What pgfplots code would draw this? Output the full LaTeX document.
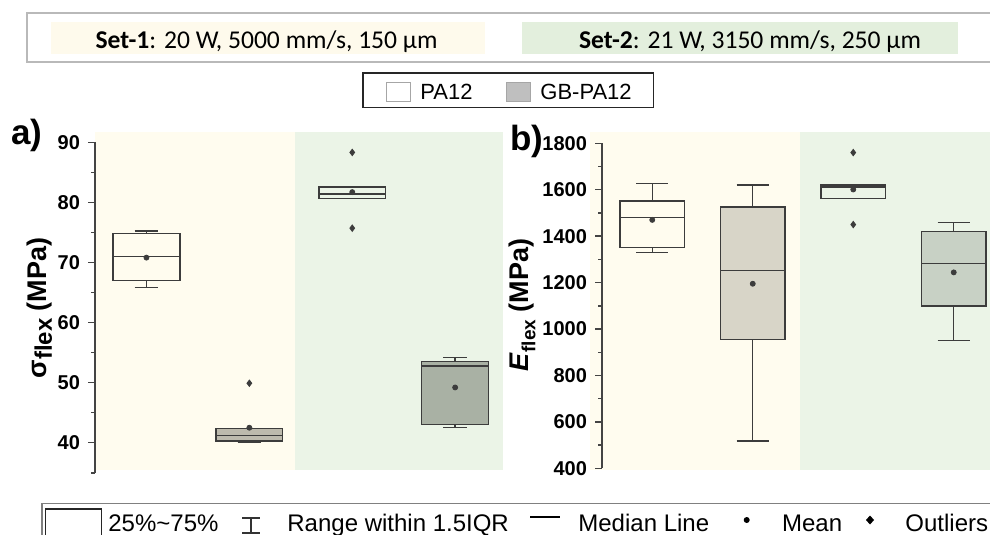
\documentclass[border=0pt]{standalone}
\usepackage{fontspec}
\setmainfont{Liberation Sans}
\newfontfamily\carlito{Carlito}
\usepackage{pgfplots}
\pgfplotsset{compat=1.18}
\usepgfplotslibrary{statistics}

\definecolor{bgyel}{HTML}{FFFCEF}
\definecolor{bggrn}{HTML}{EBF4E7}
\definecolor{topyel}{HTML}{FEFAEC}
\definecolor{topgrn}{HTML}{E3EFDD}
\definecolor{boxline}{HTML}{3C3C3C}
\definecolor{axline}{HTML}{444444}
\definecolor{gbaone}{HTML}{BDBAAD}
\definecolor{gbatwo}{HTML}{A9B1A4}
\definecolor{gbbone}{HTML}{D8D5C8}
\definecolor{gbbtwo}{HTML}{C8D1C5}

\pgfplotsset{
  panel/.style={
    anchor=south west, scale only axis,
    xmin=0.5, xmax=4.5, xtick=\empty,
    axis x line=none, axis y line*=left,
    axis line style={draw=axline, line width=0.7pt},
    tick align=outside, major tick length=3.5pt, minor tick length=2pt,
    every tick/.style={draw=axline, line width=0.7pt},
    /pgf/number format/assume math mode=true,
    /pgf/number format/1000 sep={},
    yticklabel style={font=\fontsize{10}{11}\selectfont\bfseries, xshift=-0.5pt},
    clip=false,
  },
  onebox/.style={boxplot/draw direction=y, draw=boxline, line width=0.7pt, solid, mark=none},
}

\begin{document}
\begin{tikzpicture}[x=0.5pt, y=-0.5pt]
% top box
\draw[gray!55, line width=1pt] (26.7,13.3) rectangle (1000,61.7);
\fill[topyel] (50.8,21.7) rectangle (485,54);
\fill[topgrn] (521.6,21.7) rectangle (958,54);
\node[anchor=base, inner sep=0pt, font=\carlito\fontsize{12.8}{14}\selectfont] at (266.5,48.3) {\textbf{Set-1}: 20 W, 5000 mm/s, 150 µm};
\node[anchor=base, inner sep=0pt, font=\carlito\fontsize{12.8}{14}\selectfont] at (750,48.3) {\textbf{Set-2}: 21 W, 3150 mm/s, 250 µm};

% legend
\draw[black!85, line width=0.7pt] (363,73) rectangle (653.6,107.5);
\draw[gray!70, line width=0.5pt, fill=white] (386.7,83) rectangle (410,102);
\node[anchor=base west, inner sep=0pt, font=\fontsize{11}{12}\selectfont] at (420,100) {PA12};
\draw[gray!70, line width=0.5pt, fill=black!25] (506,83) rectangle (530,102);
\node[anchor=base west, inner sep=0pt, font=\fontsize{11}{12}\selectfont] at (540,100) {GB-PA12};

% panel backgrounds
\fill[bgyel] (95,131.7) rectangle (295,470);
\fill[bggrn] (295,131.7) rectangle (502.7,470);
\fill[bgyel] (590,131.7) rectangle (800,470);
\fill[bggrn] (800,131.7) rectangle (1000,470);

% panel a
\begin{axis}[panel, at={(47.5pt,-236.4pt)}, width=205.8pt, height=165.3pt,
  ymin=35, ymax=90, ytick={40,50,...,90}, minor ytick={35,45,...,85},
  boxplot/box extend=0.65, boxplot/whisker extend=0.23]
\addplot[onebox, fill=none, boxplot prepared={draw position=1,
  lower whisker=65.8, lower quartile=67.0, median=71.0, upper quartile=74.85, upper whisker=75.2}] coordinates {};
\addplot[onebox, fill=gbaone, boxplot prepared={draw position=2,
  lower whisker=40.05, lower quartile=40.28, median=41.17, upper quartile=42.4, upper whisker=42.4}] coordinates {};
\addplot[onebox, fill=none, boxplot prepared={draw position=3,
  lower whisker=80.68, lower quartile=80.68, median=81.4, upper quartile=82.56, upper whisker=82.56}] coordinates {};
\addplot[onebox, fill=gbatwo, boxplot prepared={draw position=4,
  lower whisker=42.5, lower quartile=43.05, median=52.76, upper quartile=53.48, upper whisker=54.15}] coordinates {};
% means
\addplot[only marks, mark=*, mark size=1.25pt, color=boxline] coordinates {(1,70.8) (2,42.5) (3,81.7) (4,49.2)};
% outliers
\addplot[only marks, mark=diamond*, mark size=1.6pt, color=boxline] coordinates {(2,49.9) (3,88.3) (3,75.7)};
\end{axis}

% panel b
\begin{axis}[panel, at={(301pt,-234.15pt)}, width=201pt, height=162.5pt,
  ymin=400, ymax=1800, ytick={400,600,...,1800}, minor ytick={500,700,...,1700},
  boxplot/box extend=0.64, boxplot/whisker extend=0.32]
\addplot[onebox, fill=none, boxplot prepared={draw position=1,
  lower whisker=1330, lower quartile=1352, median=1480, upper quartile=1551, upper whisker=1626}] coordinates {};
\addplot[onebox, fill=gbbone, boxplot prepared={draw position=2,
  lower whisker=517, lower quartile=956, median=1251, upper quartile=1526, upper whisker=1620}] coordinates {};
\addplot[onebox, fill=none, boxplot prepared={draw position=3,
  lower whisker=1561, lower quartile=1561, median=1611, upper quartile=1621, upper whisker=1621}] coordinates {};
\addplot[onebox, fill=gbbtwo, boxplot prepared={draw position=4,
  lower whisker=950, lower quartile=1100, median=1283, upper quartile=1420, upper whisker=1460}] coordinates {};
\addplot[only marks, mark=*, mark size=1.25pt, color=boxline] coordinates {(1,1470) (2,1195) (3,1601) (4,1244)};
\addplot[only marks, mark=diamond*, mark size=1.6pt, color=boxline] coordinates {(3,1760) (3,1450)};
\end{axis}

% panel labels and y labels
\node[anchor=base west, inner sep=0pt, font=\fontsize{17.5}{18}\selectfont\bfseries] at (11,145) {a)};
\node[anchor=base west, inner sep=0pt, font=\fontsize{17.5}{18}\selectfont\bfseries] at (510,150) {b)};
\node[rotate=90, inner sep=0pt, font=\fontsize{13.5}{14}\selectfont\bfseries] at (40,308)
  {σ\raisebox{-0.35ex}{\fontsize{12}{13}\selectfont flex} (MPa)};
\node[rotate=90, inner sep=0pt, font=\fontsize{13.5}{14}\selectfont\bfseries] at (522,305)
  {\textit{E}\raisebox{-0.5ex}{\fontsize{9.5}{10}\selectfont flex} (MPa)};

% bottom legend
\draw[gray, line width=0.8pt] (41.7,545) -- (41.7,503.3) -- (1000,503.3);
\draw[black!85, line width=0.7pt] (45.7,545) -- (45.7,509) -- (101.7,509) -- (101.7,545);
\begin{scope}[font=\fontsize{12}{13}\selectfont]
\node[anchor=base west, inner sep=0pt] at (108,531) {25\%\textasciitilde 75\%};
\draw[black!80, line width=0.6pt] (242,518) -- (260,518) (251,518) -- (251,533) (242,533) -- (260,533);
\node[anchor=base west, inner sep=0pt] at (287,531) {Range within 1.5IQR};
\draw[black, line width=1pt] (530,517) -- (560,517);
\node[anchor=base west, inner sep=0pt] at (578,531) {Median Line};
\fill[black] (746.7,520) circle (1.5pt);
\node[anchor=base west, inner sep=0pt] at (781.7,531) {Mean};
\fill[black] (870,515.5) -- (874,520) -- (870,524.5) -- (866,520) -- cycle;
\node[anchor=base west, inner sep=0pt] at (905,531) {Outliers};
\end{scope}

\pgfresetboundingbox
\path[use as bounding box] (0,0) rectangle (990,535);
\end{tikzpicture}
\end{document}
